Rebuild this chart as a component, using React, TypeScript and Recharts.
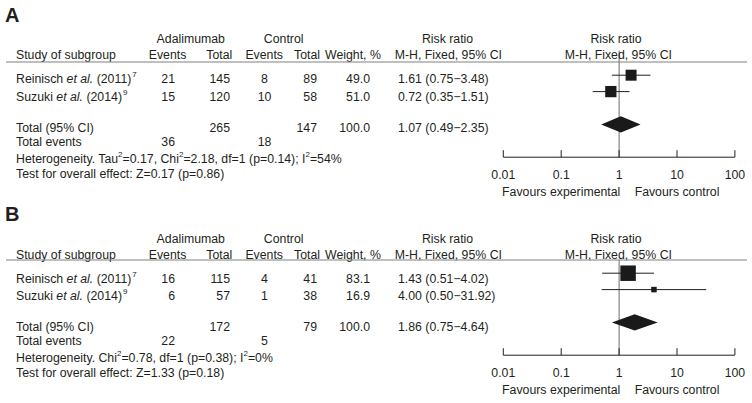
import React from 'react';
import { ComposedChart, Scatter, ErrorBar, XAxis, YAxis, ReferenceLine } from 'recharts';

// shared
const studyNames = ['Reinisch', 'Suzuki'];
const studyYears = ['2011', '2014'];
const studyRefs = ['7', '9'];
const studyRows = [1, 2];
const pooledRow = 4;
const axisTicks = [0.01, 0.1, 1, 10, 100];
const favourTicks = [0.1, 10];
const favourLabels = ['Favours experimental', 'Favours control'];

// panel A
const adaEventsA = [21, 15];
const adaTotalA = [145, 120];
const ctlEventsA = [8, 10];
const ctlTotalA = [89, 58];
const weightA = [49.0, 51.0];
const rrA = [1.61, 0.72];
const rrLowA = [0.75, 0.35];
const rrHighA = [3.48, 1.51];
const pooledA = [1.07, 0.49, 2.35];
const totalsA = [265, 147];
const totalEventsA = [36, 18];
const hetA = 'Heterogeneity. Tau^2=0.17, Chi^2=2.18, df=1 (p=0.14); I^2=54%';
const effectA = 'Test for overall effect: Z=0.17 (p=0.86)';

// panel B
const adaEventsB = [16, 6];
const adaTotalB = [115, 57];
const ctlEventsB = [4, 1];
const ctlTotalB = [41, 38];
const weightB = [83.1, 16.9];
const rrB = [1.43, 4.0];
const rrLowB = [0.51, 0.5];
const rrHighB = [4.02, 31.92];
const pooledB = [1.86, 0.75, 4.64];
const totalsB = [172, 79];
const totalEventsB = [22, 5];
const hetB = 'Heterogeneity. Chi^2=0.78, df=1 (p=0.38); I^2=0%';
const effectB = 'Test for overall effect: Z=1.33 (p=0.18)';

const W = 752;
const PANEL_H = 200;
const INK = '#231f20';
const FONT = '"Liberation Sans", Arial, Helvetica, sans-serif';
const FS = 12.3;

const ci = (e: number, l: number, h: number) => `${e.toFixed(2)} (${l.toFixed(2)}\u2212${h.toFixed(2)})`;

function Sup({ text, ...rest }: any) {
  const parts = text.split(/\^(\d)/);
  return (
    <text {...rest}>
      {parts.map((p: string, i: number) =>
        i % 2 ? (
          <tspan key={i} dy={-6} fontSize={8}>{p}</tspan>
        ) : (
          <tspan key={i} dy={i ? 6 : 0}>{p}</tspan>
        )
      )}
    </text>
  );
}

// tick mark points up from the axis; the favours captions sit under 0.1 and 10
const RatioTick = (props: any) => {
  const { x, y, payload } = props;
  const fi = favourTicks.indexOf(payload.value);
  return (
    <g fontSize={FS} fill={INK} fontFamily={FONT}>
      <line x1={x} x2={x} y1={y} y2={y - 7} stroke={INK} />
      <text x={x} y={y + 21.7} textAnchor="middle">
        {String(payload.value)}
      </text>
      {fi >= 0 && (
        <text x={x} y={y + 38.8} textAnchor="middle">
          {favourLabels[fi]}
        </text>
      )}
    </g>
  );
};

const Square = (props: any) => {
  const { cx, cy } = props;
  const w = props.payload?.weight ?? props.weight;
  const s = 0.875 * Math.pow(w, 0.65);
  return <rect x={cx - s / 2} y={cy - s / 2} width={s} height={s} fill="#1a1a1a" />;
};

const Diamond = (props: any) => (
  <polygon points={props.points.map((q: any) => `${q.x},${q.y}`).join(' ')} fill="#1a1a1a" />
);

function Panel(p: any) {
  const sh = p.shift;
  const studyData = p.rr.map((v: number, i: number) => ({
    x: v,
    y: studyRows[i],
    err: [v - p.lo[i], p.hi[i] - v],
    weight: p.weight[i],
  }));
  const [est, low, high] = p.pooled;
  const diamond = [
    { x: low, y: pooledRow },
    { x: est, y: pooledRow - 0.5 },
    { x: high, y: pooledRow },
    { x: est, y: pooledRow + 0.5 },
  ];
  const rowY = [83.3 + sh, 101 + sh];
  const txt = { fontSize: FS, fill: INK, fontFamily: FONT };
  return (
    <div style={{ position: 'absolute', left: 0, top: p.top, width: W, height: PANEL_H }}>
      <ComposedChart width={W} height={PANEL_H} margin={{ top: 58.8, right: 17.1, bottom: 0, left: 503.3 }}>
        <XAxis
          xAxisId="a1"
          type="number"
          dataKey="x"
          scale="log"
          domain={[0.01, 100]}
          allowDataOverflow
          ticks={axisTicks}
          interval={0}
          height={42.8}
          tickSize={0}
          tickMargin={0}
          tickLine={false}
          stroke={INK}
          tick={RatioTick}
        />
        <YAxis yAxisId="row" type="number" dataKey="y" domain={[0, 6]} reversed hide allowDataOverflow />
        <ReferenceLine
          xAxisId="a1"
          yAxisId="row"
          segment={[{ x: 1, y: p.vTop }, { x: 1, y: 6 }]}
          stroke="#6b6b6b"
          ifOverflow="visible"
        />
        <Scatter xAxisId="a1" yAxisId="row" data={studyData} shape={Square} isAnimationActive={false}>
          <ErrorBar dataKey="err" direction="x" width={0} stroke={INK} strokeWidth={1} />
        </Scatter>
        <Scatter
          xAxisId="a1"
          yAxisId="row"
          data={diamond}
          shape={() => <g />}
          line={Diamond}
          lineType="joint"
          isAnimationActive={false}
        />
      </ComposedChart>
      <svg width={W} height={PANEL_H} style={{ position: 'absolute', left: 0, top: 0, pointerEvents: 'none' }}>
        <text x={5} y={21.7 + sh} fontSize={20} fontWeight="bold" fill={INK} fontFamily={FONT}>{p.label}</text>
        <g {...txt}>
          <text x={190.8} y={43.3 + sh} textAnchor="middle">Adalimumab</text>
          <text x={283.7} y={43.3 + sh} textAnchor="middle">Control</text>
          <text x={447.5} y={43.3 + sh} textAnchor="middle">Risk ratio</text>
          <text x={616} y={43.3 + sh} textAnchor="middle">Risk ratio</text>
          <text x={16} y={59.3 + sh}>Study of subgroup</text>
          <text x={167.5} y={59.3 + sh} textAnchor="middle">Events</text>
          <text x={232.3} y={59.3 + sh} textAnchor="end">Total</text>
          <text x={264.2} y={59.3 + sh} textAnchor="middle">Events</text>
          <text x={320} y={59.3 + sh} textAnchor="end">Total</text>
          <text x={325} y={59.3 + sh}>Weight, %</text>
          <text x={448.3} y={59.3 + sh} textAnchor="middle">M-H, Fixed, 95% CI</text>
          <text x={618.3} y={59.3 + sh} textAnchor="middle">M-H, Fixed, 95% CI</text>
        </g>
        <line x1={6} x2={747} y1={62} y2={62} stroke="#808080" strokeWidth={1.2} />
        <g {...txt}>
          {studyNames.map((n, i) => (
            <g key={n}>
              <text x={16} y={rowY[i]}>
                <tspan>{n} </tspan>
                <tspan fontStyle="italic">et al.</tspan>
                <tspan> ({studyYears[i]})</tspan>
                <tspan dx={1} dy={-6} fontSize={8}>{studyRefs[i]}</tspan>
              </text>
              <text x={175} y={rowY[i]} textAnchor="end">{p.adaEvents[i]}</text>
              <text x={230} y={rowY[i]} textAnchor="end">{p.adaTotal[i]}</text>
              <text x={264.5} y={rowY[i]} textAnchor="middle">{p.ctlEvents[i]}</text>
              <text x={317} y={rowY[i]} textAnchor="end">{p.ctlTotal[i]}</text>
              <text x={370} y={rowY[i]} textAnchor="end">{p.weight[i].toFixed(1)}</text>
              <text x={398} y={rowY[i]}>{ci(p.rr[i], p.lo[i], p.hi[i])}</text>
            </g>
          ))}
          <text x={16} y={132 + sh}>Total (95% CI)</text>
          <text x={230} y={132 + sh} textAnchor="end">{p.totals[0]}</text>
          <text x={317} y={132 + sh} textAnchor="end">{p.totals[1]}</text>
          <text x={370} y={132 + sh} textAnchor="end">{(100).toFixed(1)}</text>
          <text x={398} y={132 + sh}>{ci(est, low, high)}</text>
          <text x={16} y={145.7 + sh}>Total events</text>
          <text x={175} y={145.7 + sh} textAnchor="end">{p.totalEvents[0]}</text>
          <text x={264.5} y={145.7 + sh} textAnchor="middle">{p.totalEvents[1]}</text>
          <Sup x={16} y={162.5 + sh} text={p.het} />
          <text x={16} y={178 + sh}>{p.effect}</text>
        </g>
      </svg>
    </div>
  );
}

export default function App() {
  return (
    <div style={{ position: 'absolute', left: 0, top: 0, width: W, height: 403, background: '#fff', overflow: 'hidden' }}>
      <Panel
        top={0}
        shift={0}
        vTop={-0.5}
        label="A"
        adaEvents={adaEventsA}
        adaTotal={adaTotalA}
        ctlEvents={ctlEventsA}
        ctlTotal={ctlTotalA}
        weight={weightA}
        rr={rrA}
        lo={rrLowA}
        hi={rrHighA}
        pooled={pooledA}
        totals={totalsA}
        totalEvents={totalEventsA}
        het={hetA}
        effect={effectA}
      />
      <Panel
        top={198}
        shift={1.2}
        vTop={0.2}
        label="B"
        adaEvents={adaEventsB}
        adaTotal={adaTotalB}
        ctlEvents={ctlEventsB}
        ctlTotal={ctlTotalB}
        weight={weightB}
        rr={rrB}
        lo={rrLowB}
        hi={rrHighB}
        pooled={pooledB}
        totals={totalsB}
        totalEvents={totalEventsB}
        het={hetB}
        effect={effectB}
      />
    </div>
  );
}
